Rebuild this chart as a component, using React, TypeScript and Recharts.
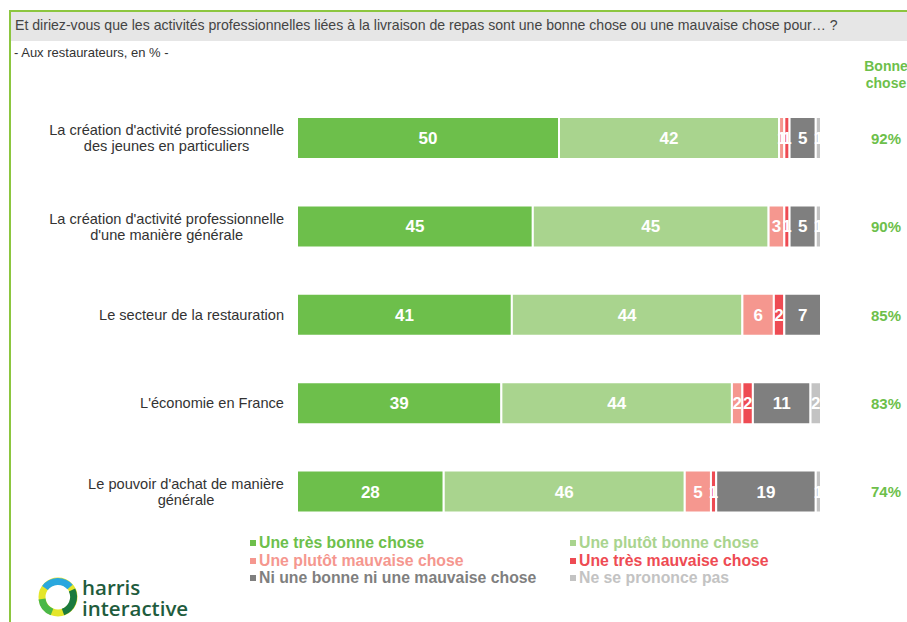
import { BarChart, Bar, XAxis, YAxis, LabelList } from "recharts";

const categories = [
  "La création d'activité professionnelle\ndes jeunes en particuliers",
  "La création d'activité professionnelle\nd'une manière générale",
  "Le secteur de la restauration",
  "L'économie en France",
  "Le pouvoir d'achat de manière\ngénérale",
];
const tresBonne = [50, 45, 41, 39, 28];
const plutotBonne = [42, 45, 44, 44, 46];
const plutotMauvaise = [1, 3, 6, 2, 5];
const tresMauvaise = [1, 1, 2, 2, 1];
const niNi = [5, 5, 7, 11, 19];
const nsp = [1, 1, 0, 2, 1];
const totalBonne = [92, 90, 85, 83, 74];

const series = [
  { key: "tresBonne", name: "Une très bonne chose", color: "#6dbf4b" },
  { key: "plutotBonne", name: "Une plutôt bonne chose", color: "#a9d48e" },
  { key: "plutotMauvaise", name: "Une plutôt mauvaise chose", color: "#f5978f" },
  { key: "tresMauvaise", name: "Une très mauvaise chose", color: "#ee4b53" },
  { key: "niNi", name: "Ni une bonne ni une mauvaise chose", color: "#7f7f7f" },
  { key: "nsp", name: "Ne se prononce pas", color: "#c3c3c3" },
];

const data = categories.map((cat, i) => ({
  cat,
  tresBonne: tresBonne[i],
  plutotBonne: plutotBonne[i],
  plutotMauvaise: plutotMauvaise[i],
  tresMauvaise: tresMauvaise[i],
  niNi: niNi[i],
  nsp: nsp[i],
}));

const FONT = "'Liberation Sans', Arial, sans-serif";
const CAT_SIZE = 14.6;

let ctx: CanvasRenderingContext2D | null = null;
function textWidth(s: string, font: string) {
  if (!ctx) ctx = document.createElement("canvas").getContext("2d");
  if (!ctx) return s.length * 7;
  ctx.font = font;
  return ctx.measureText(s).width;
}

// right edge of the block is fixed, lines centred inside it
function CatTick(props: any) {
  const { x, y, payload } = props;
  const lines = String(payload.value).split("\n");
  const w = Math.max(...lines.map((l) => textWidth(l, `${CAT_SIZE}px ${FONT}`)));
  const cx = x - w / 2;
  const y0 = y - ((lines.length - 1) * 16) / 2;
  return (
    <text x={cx} y={y0} textAnchor="middle" fontSize={CAT_SIZE} fill="#333" dominantBaseline="central">
      {lines.map((l, i) => (
        <tspan key={i} x={cx} y={y0 + i * 16}>
          {l}
        </tspan>
      ))}
    </text>
  );
}

function TotalTick(props: any) {
  const { y, index } = props;
  return (
    <text x={886} y={y} textAnchor="middle" dominantBaseline="central" fontSize={15} fontWeight="bold" fill="#6dbf4b">
      {totalBonne[index]}%
    </text>
  );
}

export default function App() {
  return (
    <div style={{ position: "absolute", left: 0, top: 0, width: 907, height: 622, overflow: "hidden", background: "#fff", fontFamily: FONT }}>
      {/* frame + header */}
      <div style={{ position: "absolute", left: 9, top: 10, width: 910, height: 620, borderTop: "2px solid #8cc63f", borderLeft: "2px solid #8cc63f" }} />
      <div style={{ position: "absolute", left: 11, top: 12, width: 900, height: 29, background: "#e6e6e6" }} />
      <div style={{ position: "absolute", left: 15, top: 17, fontSize: 14.1, color: "#444", whiteSpace: "nowrap" }}>
        Et diriez-vous que les activités professionnelles liées à la livraison de repas sont une bonne chose ou une mauvaise chose pour… ?
      </div>
      <div style={{ position: "absolute", left: 14, top: 45, fontSize: 13, color: "#333", whiteSpace: "nowrap" }}>
        - Aux restaurateurs, en % -
      </div>
      <div style={{ position: "absolute", left: 846, width: 80, top: 58, fontSize: 14, fontWeight: "bold", color: "#6dbf4b", textAlign: "center", lineHeight: "17px" }}>
        Bonne
        <br />
        chose
      </div>

      <div style={{ position: "absolute", left: 0, top: 0 }}>
        <BarChart width={907} height={622} data={data} layout="vertical" margin={{ top: 94, right: 0, bottom: 86, left: 0 }} barSize={42}>
          <XAxis type="number" domain={[0, 100]} hide />
          <YAxis yAxisId="left" type="category" dataKey="cat" width={297} axisLine={false} tickLine={false} tickMargin={7} tick={<CatTick />} interval={0} />
          <YAxis yAxisId="right" orientation="right" type="category" dataKey="cat" width={86} axisLine={false} tickLine={false} tick={<TotalTick />} interval={0} />
          {series.map((s) => (
            <Bar key={s.key} yAxisId="left" dataKey={s.key} stackId="a" fill={s.color} stroke="#fff" strokeWidth={2} isAnimationActive={false}>
              <LabelList
                dataKey={s.key}
                position="center"
                fill="#fff"
                fontSize={17}
                fontWeight="bold"
                formatter={(v: any) => (v ? v : "")}
              />
            </Bar>
          ))}
        </BarChart>
      </div>

      {/* legend */}
      {series.map((s, i) => {
        const col = i % 2;
        const row = Math.floor(i / 2);
        return (
          <div
            key={s.key}
            style={{ position: "absolute", left: col ? 570 : 250, top: 534 + row * 17.5, fontSize: 15.8, fontWeight: "bold", color: s.color, whiteSpace: "nowrap", display: "flex", alignItems: "center" }}
          >
            <span style={{ display: "inline-block", width: 6, height: 6, background: s.color, marginRight: 3 }} />
            {s.name}
          </div>
        );
      })}

      {/* logo */}
      <svg style={{ position: "absolute", left: 36, top: 575 }} width={46} height={46} viewBox="0 0 46 46">
        <circle cx={22} cy={22} r={16} fill="none" stroke="#e4e62a" strokeWidth={7} />
        <path d="M 9 13 A 16 16 0 0 1 34 12" fill="none" stroke="#2aa7de" strokeWidth={7} />
        <path d="M 36 15 A 16 16 0 0 1 27 37" fill="none" stroke="#1b7a3e" strokeWidth={7} />
        <path d="M 16 37 A 16 16 0 0 1 6 24" fill="none" stroke="#4bb848" strokeWidth={7} />
      </svg>
      <div style={{ position: "absolute", left: 82, top: 577, fontSize: 20.5, fontWeight: 600, color: "#1f5c3d", lineHeight: "20px", fontFamily: "'Open Sans', sans-serif" }}>
        harris
      </div>
      <div style={{ position: "absolute", left: 82, top: 598, fontSize: 20.5, fontWeight: 600, color: "#1f5c3d", lineHeight: "20px", fontFamily: "'Open Sans', sans-serif" }}>
        interactive
      </div>
    </div>
  );
}
